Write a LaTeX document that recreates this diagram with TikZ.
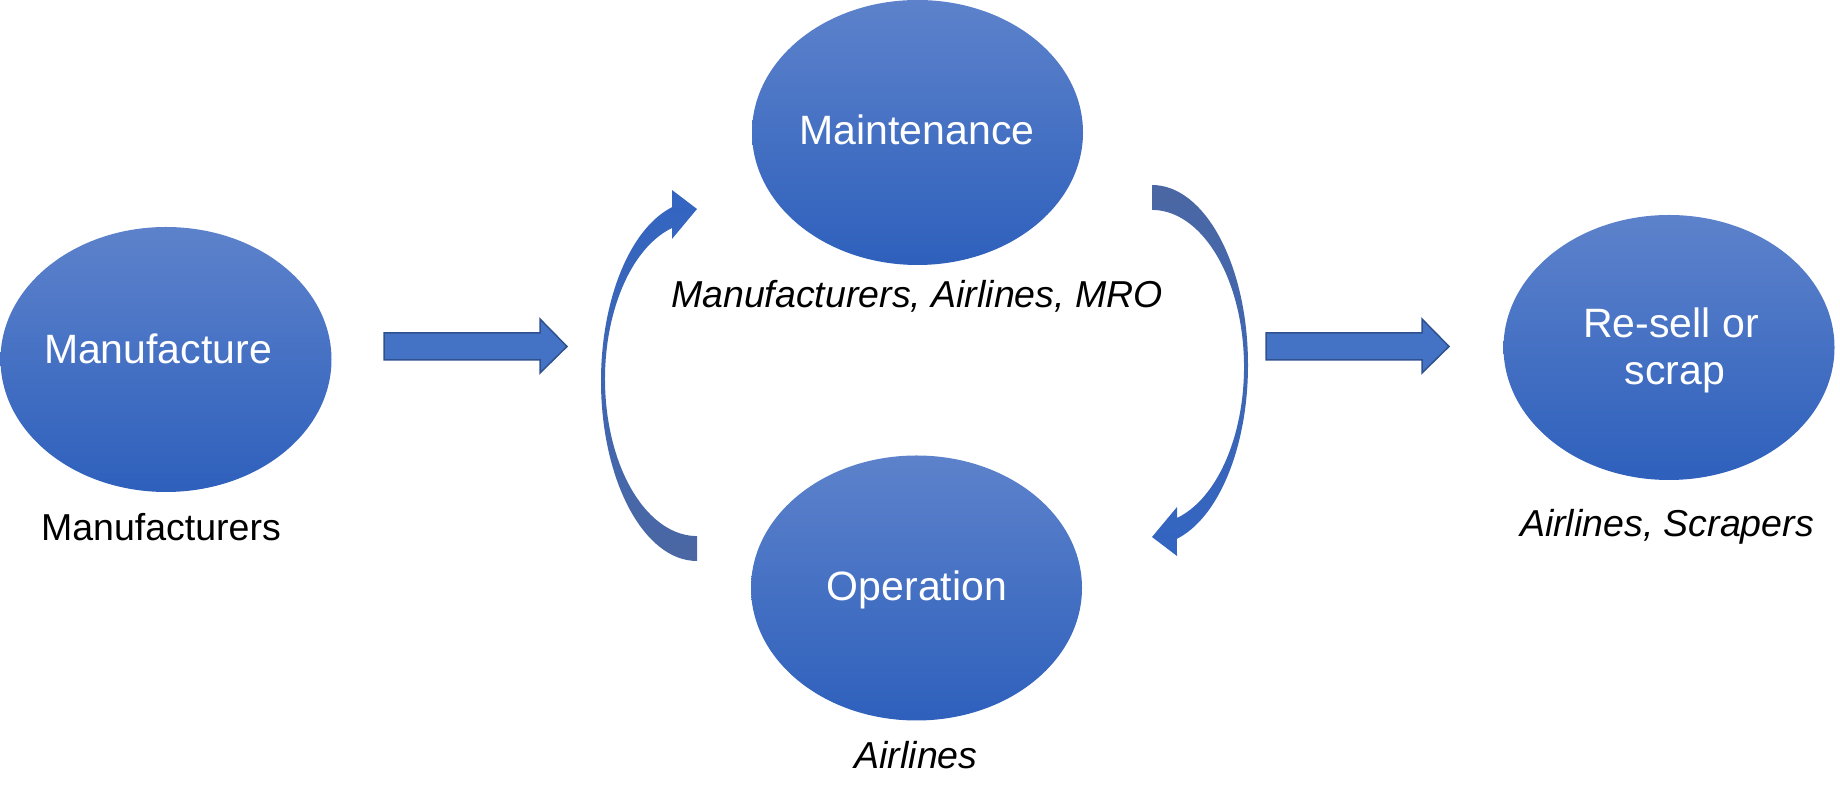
\documentclass[tikz,border=0pt]{standalone}
\usepackage{fontspec}
\setmainfont{Liberation Sans}
\usetikzlibrary{shapes.geometric}
\definecolor{elltop}{RGB}{93,130,203}
\definecolor{ellbot}{RGB}{46,96,188}
\definecolor{arrfill}{RGB}{68,114,196}
\definecolor{arrdraw}{RGB}{47,82,143}
\definecolor{cblue}{RGB}{50,101,194}
\definecolor{cgray}{RGB}{75,103,163}
\begin{document}
\begin{tikzpicture}[x=1pt,y=1pt,
  stage/.style={ellipse, draw=none, inner sep=0pt, outer sep=0pt, top color=elltop, bottom color=ellbot, minimum width=331pt, minimum height=265pt},
  stagetext/.style={anchor=base, text=white, font=\fontsize{41}{47}\selectfont, inner sep=0pt},
  actor/.style={anchor=base, text=black, font=\fontsize{37.5}{43}\selectfont, inner sep=0pt},
  actorit/.style={actor, font=\fontsize{37.5}{43}\selectfont\itshape},
  blockarrow/.style={fill=arrfill, draw=arrdraw, line width=1.5pt, line join=miter},
]
\useasboundingbox (0,0) rectangle (1840,802);

% stages
\node[stage] (manuf) at (166,442.5) {};
\node[stage] (maint) at (917.5,669.5) {};
\node[stage] (oper) at (916.5,214) {};
\node[stage] (resell) at (1669,454.5) {};

\node[stagetext] (manuft) at (158,438) {Manufacture};
\node[stagetext] (maintt) at (917,657) {Maintenance};
\node[stagetext] (opert) at (917,201) {Operation};
\node[stagetext] (resellta) at (1671,464) {Re-sell or};
\node[stagetext] (reselltb) at (1675,417) {scrap};

% actors
\node[actor] (manufa) at (161,261) {Manufacturers};
\node[actorit] (mainta) at (917,494) {Manufacturers, Airlines, MRO};
\node[actorit] (opera) at (916,33) {Airlines};
\node[actorit] (resella) at (1667,265) {Airlines, Scrapers};

% straight block arrows
\draw[blockarrow] (384,442) -- (540,442) -- (540,429) -- (567,455.5) -- (540,483) -- (540,469) -- (384,469) -- cycle;
\draw[blockarrow] (1266,442) -- (1422,442) -- (1422,429) -- (1449,455.5) -- (1422,483) -- (1422,469) -- (1266,469) -- cycle;

% curved arrows
\shade[top color=cblue, bottom color=cgray] (697,241) arc[start angle=270, end angle=105, x radius=96, y radius=180] -- (672,612) -- (697,593) -- (672,563) -- (672,574) arc[start angle=105.77, end angle=270, x radius=92, y radius=157] -- cycle;
\shade[top color=cgray, bottom color=cblue] (1152,617) arc[start angle=90, end angle=-75, x radius=96, y radius=180] -- (1177,246) -- (1152,265) -- (1177,295) -- (1177,284) arc[start angle=-74.23, end angle=90, x radius=92, y radius=157] -- cycle;
\end{tikzpicture}
\end{document}
